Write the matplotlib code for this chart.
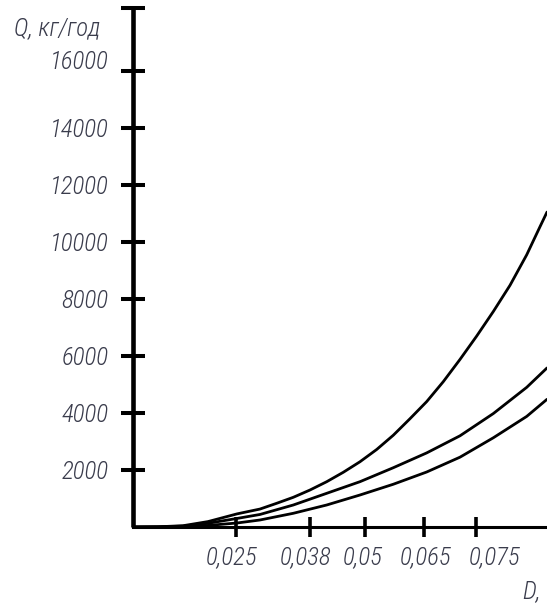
import matplotlib
matplotlib.use("Agg")
import matplotlib.pyplot as plt
from matplotlib import font_manager
from matplotlib.transforms import ScaledTranslation, blended_transform_factory

# ---------------- data ----------------
# x positions along the (hand-drawn, non-uniform) D axis, in axis units
x_top = [0.0, 0.25, 0.5, 0.75, 1.04, 1.27, 1.437, 1.603, 1.77, 1.937, 2.103,
         2.27, 2.437, 2.603, 2.77, 2.937, 3.103, 3.27, 3.437, 3.603, 3.77,
         3.937, 4.07, 4.14]
q_top = [0, 8, 45, 190, 460, 630, 832, 1042, 1298, 1589, 1920,
         2290, 2720, 3220, 3800, 4400, 5100, 5880, 6700, 7560, 8480,
         9550, 10537, 11050]

x_mid = [0.0, 0.25, 0.5, 0.75, 1.04, 1.27, 1.603, 1.937, 2.27, 2.603, 2.937,
         3.27, 3.603, 3.937, 4.14]
q_mid = [0, 5, 30, 130, 300, 440, 772, 1182, 1590, 2080, 2600,
         3200, 3980, 4900, 5580]

x_bot = [0.0, 0.25, 0.5, 0.75, 1.04, 1.27, 1.603, 1.937, 2.27, 2.603, 2.937,
         3.27, 3.603, 3.937, 4.14]
q_bot = [0, 2, 12, 55, 140, 246, 481, 772, 1123, 1500, 1930,
         2450, 3130, 3880, 4480]

d_labels = ["0,025", "0,038", "0,05", "0,065", "0,075"]
d_tick_pos = [1.03, 1.77, 2.32, 2.91, 3.43]
d_label_pos = [0.99, 1.725, 2.30, 2.925, 3.615]

q_ticks = [2000, 4000, 6000, 8000, 10000, 12000, 14000, 16000]
q_labels = ["2000", "4000", "6000", "8000", "10000", "12000", "14000", "16000"]
y_top = 18210
x_right = 4.14

# ---------------- font ----------------
available = {f.name for f in font_manager.fontManager.ttflist}
font = "DejaVu Sans"
fsize = 13
for cand, sz in [("Liberation Sans Narrow", 18.5), ("Roboto Condensed", 18),
                 ("DejaVu Sans Condensed", 15)]:
    if cand in available:
        font, fsize = cand, sz
        break
plt.rcParams["font.family"] = [font, "DejaVu Sans"]
fweight = "light"
tcol = "#3a3c4c"

# ---------------- figure ----------------
W, H = 547, 606
fig = plt.figure(figsize=(W / 100, H / 100), dpi=100)
ax = fig.add_axes([133 / W, 79 / H, (W - 133) / W, 519 / H])

for xs, ys in [(x_top, q_top), (x_mid, q_mid), (x_bot, q_bot)]:
    ax.plot(xs, ys, color="black", lw=2.0, solid_capstyle="round",
            solid_joinstyle="round")

ax.set_xlim(0, x_right)
ax.set_ylim(0, y_top)
for s in ["top", "right"]:
    ax.spines[s].set_visible(False)
ax.spines["left"].set_linewidth(3.3)
ax.spines["bottom"].set_linewidth(2.2)
ax.spines["left"].set_capstyle("butt")

ax.set_yticks(q_ticks + [y_top])
ax.set_yticklabels(q_labels + [""])
ax.tick_params(axis="y", direction="inout", length=17, width=2.9,
               pad=9, labelsize=fsize, labelcolor=tcol)
for lab in ax.get_yticklabels():
    lab.set_fontstyle("italic")
    lab.set_fontweight(fweight)

ax.set_xticks(d_tick_pos)
ax.set_xticklabels([])
ax.tick_params(axis="x", direction="inout", length=14.5, width=2.6)

# nudge 16000 label upward like in the drawing
fig.canvas.draw()
for tick in ax.yaxis.get_major_ticks():
    if tick.label1.get_text() == "16000":
        tick.label1.set_transform(tick.label1.get_transform() +
                                  ScaledTranslation(0, 11 / 100, fig.dpi_scale_trans))

trans = blended_transform_factory(ax.transData, ax.transAxes) + \
    ScaledTranslation(0, -30 / 100, fig.dpi_scale_trans)
for p, lab in zip(d_label_pos, d_labels):
    ax.text(p, 0, lab, transform=trans, ha="center", va="center",
            fontsize=fsize, fontstyle="italic", fontweight=fweight,
            color=tcol, clip_on=False)

fig.text(14 / W, 1 - 28 / H, "Q, кг/год", ha="left", va="center",
         fontsize=fsize, fontstyle="italic", fontweight=fweight, color=tcol)
fig.text(522 / W, 3 / H, "D,", ha="left", va="bottom",
         fontsize=fsize, fontstyle="italic", fontweight=fweight, color=tcol)

fig.savefig("out.png", dpi=100)
